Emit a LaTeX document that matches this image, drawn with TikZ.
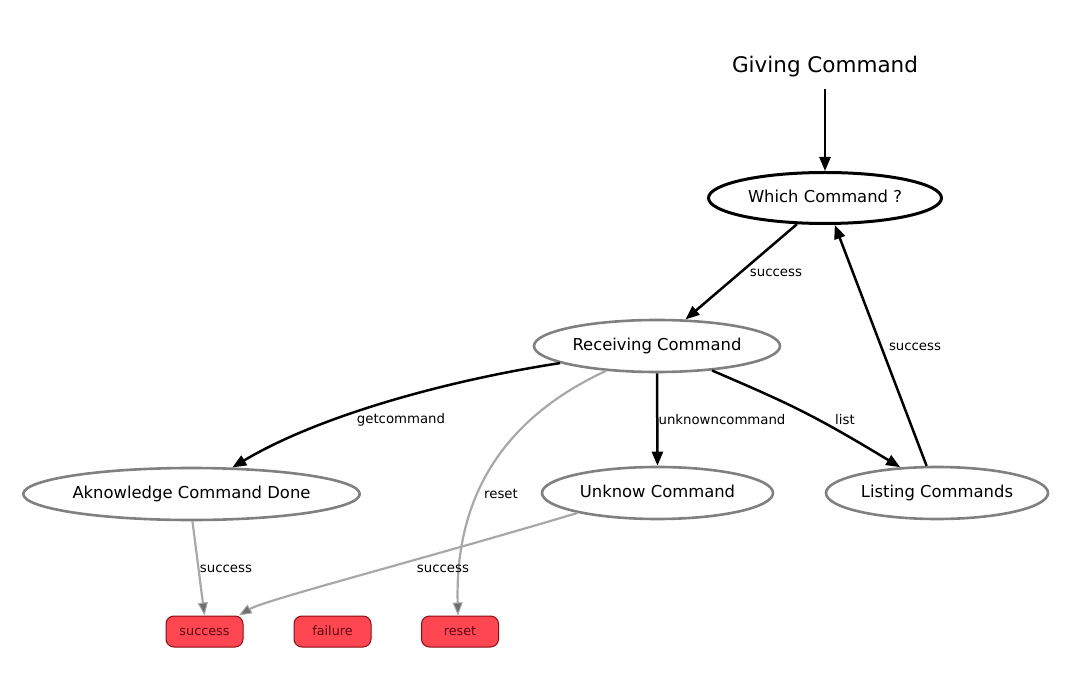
\documentclass[tikz,border=0pt]{standalone}
\usepackage{fontspec}
\setmainfont{DejaVu Sans}
\usetikzlibrary{shapes.geometric,arrows.meta}
\definecolor{boxred}{HTML}{FF4651}
\definecolor{boxline}{HTML}{8B0A14}
\definecolor{boxtext}{HTML}{5A0A14}
\definecolor{edgegray}{HTML}{A8A8A8}
\definecolor{headgray}{HTML}{6E6E6E}
\definecolor{nodegray}{HTML}{808080}
\begin{document}
\begin{tikzpicture}[x=1pt,y=-1pt,
  state/.style={ellipse,draw=nodegray,line width=2.6pt,inner sep=0pt,minimum height=52pt,text height=12pt,text depth=3.5pt,font=\fontsize{16.4}{19}\selectfont},
  outcome/.style={rounded corners=8pt,draw=boxline,fill=boxred,line width=1pt,minimum width=77pt,minimum height=31pt,inner sep=0pt,text height=9.5pt,text depth=2.5pt,text=boxtext,font=\fontsize{12.8}{15}\selectfont},
  go/.style={line width=2.5pt,-{Triangle[length=14pt,width=11pt]}},
  back/.style={line width=2.2pt,draw=edgegray,-{Triangle[length=13pt,width=10pt,line width=1pt,color=edgegray,fill=headgray]}},
  lbl/.style={font=\fontsize{13.3}{16}\selectfont,inner sep=1pt}]
\useasboundingbox (0,0) rectangle (1081,692);
\node (give) at (825,67) {\fontsize{21.5}{26}\selectfont Giving Command};
\node[state,draw=black,line width=3pt,minimum width=233pt,minimum height=51pt] (which) at (825,198) {Which Command ?};
\node[state,minimum width=246pt] (recv) at (657,346) {Receiving Command};
\node[state,minimum width=331pt] (ack) at (191.5,494) {Aknowledge Command Done};
\node[state,minimum width=231pt] (unk) at (657.5,493) {Unknow Command};
\node[state,minimum width=222pt] (list) at (937,493) {Listing Commands};
\node[outcome] (succ) at (204.5,631.5) {success};
\node[outcome] (fail) at (332.5,631.5) {failure};
\node[outcome] (rst) at (460,631.5) {reset};
\coordinate (top) at (825,89);
\draw[go] (top) -- (which);
\draw[go] (which.-137) -- (recv.43);
\node[lbl] at (776,273) {success};
\draw[go] (list.111) -- (which.-70);
\node[lbl] at (915,347) {success};
\draw[go] (recv.190) .. controls (450,380) and (320,415) .. (ack.33);
\node[lbl] at (401,420) {getcommand};
\draw[go] (recv.south) -- (unk.north);
\node[lbl] at (722,420) {unknowncommand};
\draw[go] (recv.-24) .. controls (790,404) and (812,414) .. (list.145);
\node[lbl] at (845,420) {list};
\draw[back] (recv.206) .. controls (500,420) and (455,500) .. ([xshift=-2pt]rst.north);
\node[lbl] at (501,494) {reset};
\draw[back] (ack.-88) -- (succ.north);
\node[lbl] at (226,569) {success};
\draw[back] (unk.194) .. controls (420,560) and (265,600) .. (succ.25);
\node[lbl] at (443,569) {success};
\end{tikzpicture}
\end{document}
